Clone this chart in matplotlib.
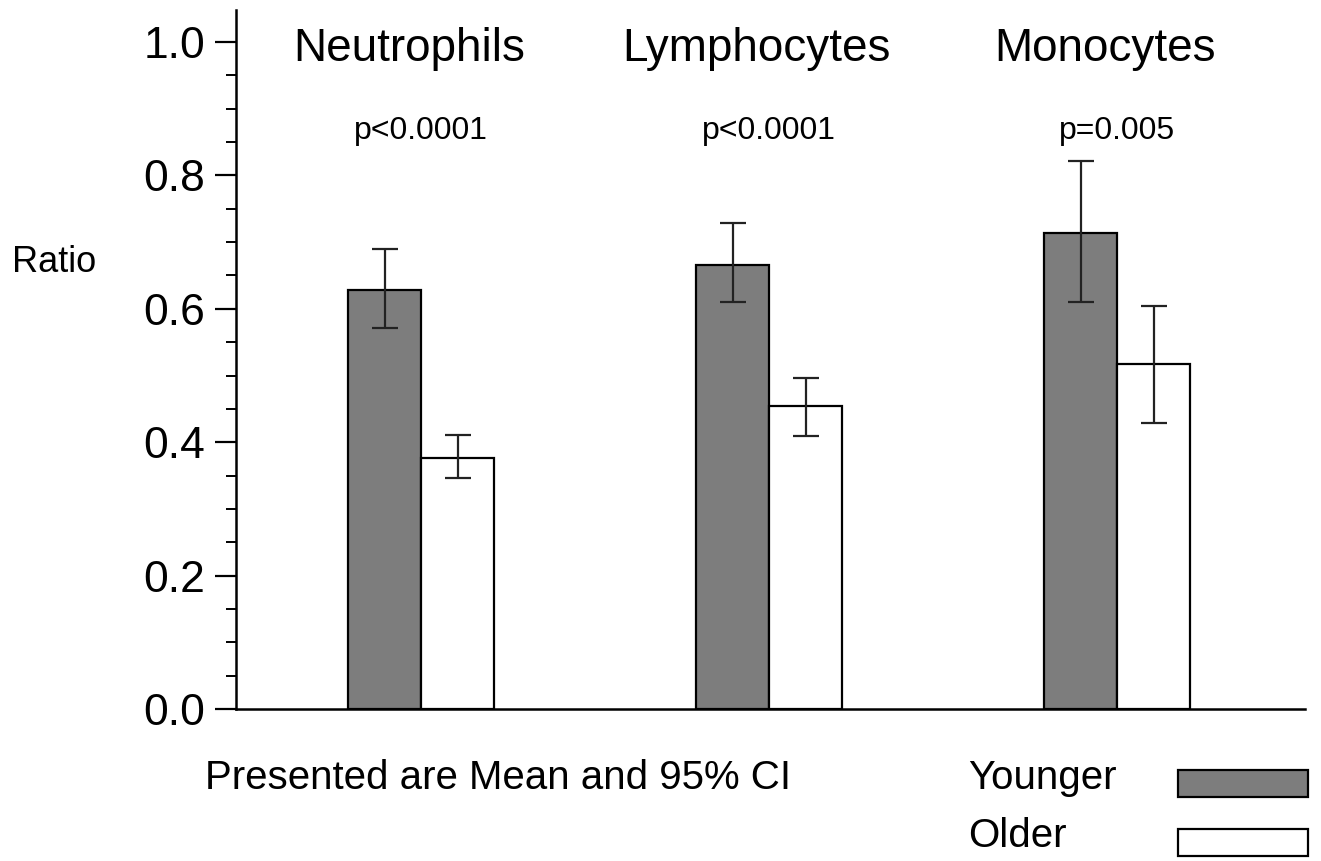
import numpy as np
import matplotlib.pyplot as plt
from matplotlib.patches import Rectangle

plt.rcParams['font.family'] = ['Liberation Sans', 'DejaVu Sans']

# data
cells = ["Neutrophils", "Lymphocytes", "Monocytes"]
pvals = ["p<0.0001", "p<0.0001", "p=0.005"]
younger = [0.628, 0.666, 0.714]
younger_lo = [0.571, 0.610, 0.610]
younger_hi = [0.690, 0.729, 0.822]
older = [0.376, 0.454, 0.517]
older_lo = [0.346, 0.409, 0.429]
older_hi = [0.411, 0.496, 0.604]

x = np.arange(len(cells))
w = 0.21

fig = plt.figure(figsize=(13.21, 8.61), dpi=100)
ax = fig.add_axes([236/1321, 1 - 709/861, (1305 - 236)/1321, (709 - 10)/861])

yerr_y = [np.array(younger) - np.array(younger_lo), np.array(younger_hi) - np.array(younger)]
yerr_o = [np.array(older) - np.array(older_lo), np.array(older_hi) - np.array(older)]
ekw = dict(elinewidth=1.6, capthick=1.6, ecolor='#222222')

ax.bar(x - w/2, younger, w, color='#7d7d7d', edgecolor='black', linewidth=1.6,
       yerr=yerr_y, capsize=9.5, error_kw=ekw, zorder=2)
ax.bar(x + w/2, older, w, color='white', edgecolor='black', linewidth=1.6,
       yerr=yerr_o, capsize=9.5, error_kw=ekw, zorder=2)

ax.set_xlim(-0.532, 2.54)
ax.set_ylim(0, 1.048)
ax.set_yticks([0.0, 0.2, 0.4, 0.6, 0.8, 1.0])
ax.set_yticklabels(['0.0', '0.2', '0.4', '0.6', '0.8', '1.0'])
ax.set_yticks(np.arange(0, 1.0001, 0.05), minor=True)
ax.tick_params(axis='y', which='major', length=15, width=1.6, labelsize=32, pad=7)
ax.tick_params(axis='y', which='minor', length=7.5, width=1.4)
ax.set_xticks([])
ax.spines['top'].set_visible(False)
ax.spines['right'].set_visible(False)
ax.spines['left'].set_linewidth(1.8)
ax.spines['bottom'].set_linewidth(1.8)

for i, (name, p) in enumerate(zip(cells, pvals)):
    ax.text(i - 0.035, 0.99, name, ha='center', va='center', fontsize=33)
    ax.text(i, 0.867, p, ha='center', va='center', fontsize=23)

fig.text(12/1321, 1 - 262/861, "Ratio", ha='left', va='center', fontsize=26)
fig.text(205/1321, 1 - 778/861, "Presented are Mean and 95% CI", ha='left', va='center', fontsize=29)
fig.text(968/1321, 1 - 778/861, "Younger", ha='left', va='center', fontsize=29)
fig.text(968/1321, 1 - 836/861, "Older", ha='left', va='center', fontsize=29)

# legend swatches
fig.patches.append(Rectangle((1178/1321, 1 - 797/861), 130/1321, 27/861,
                             transform=fig.transFigure, facecolor='#7d7d7d',
                             edgecolor='black', linewidth=1.6))
fig.patches.append(Rectangle((1178/1321, 1 - 856/861), 130/1321, 27/861,
                             transform=fig.transFigure, facecolor='white',
                             edgecolor='black', linewidth=1.6))

fig.savefig("out.png", dpi=100)
